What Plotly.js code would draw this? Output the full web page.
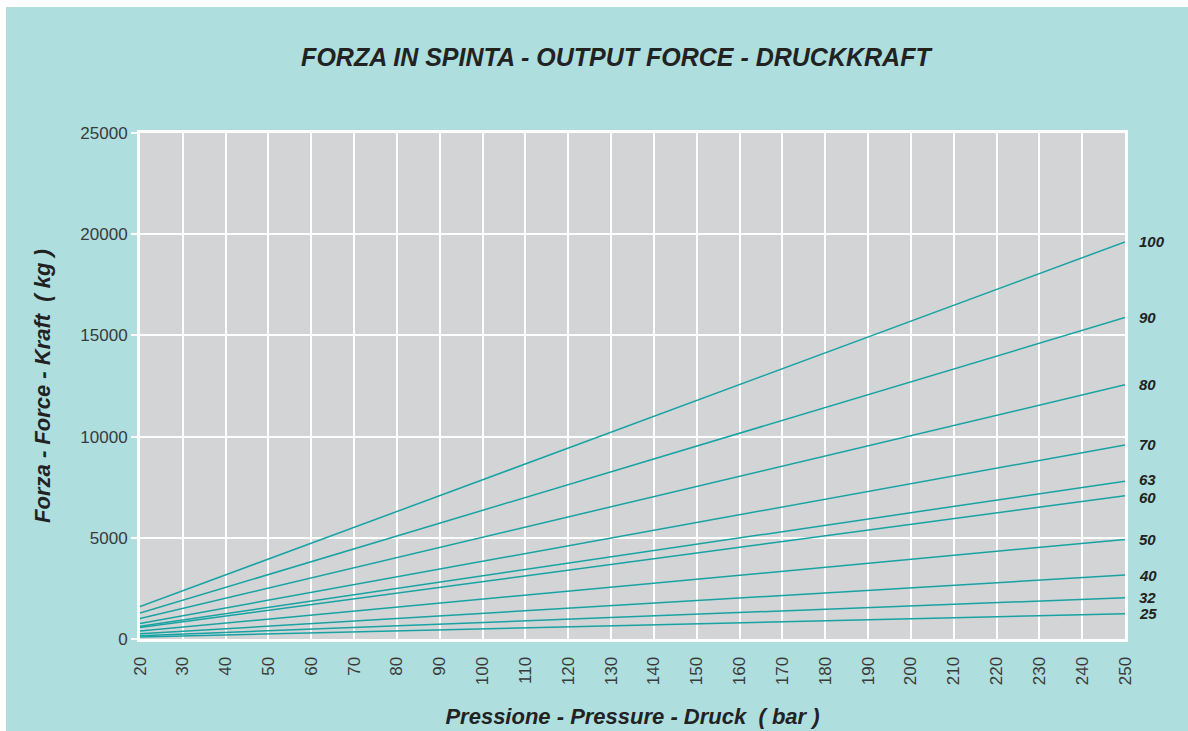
<!DOCTYPE html>
<html>
<head>
<meta charset="utf-8">
<script src="https://cdn.plot.ly/plotly-3.0.1.min.js"></script>
<style>
  html, body { margin: 0; padding: 0; background: #ffffff; }
  #chart { position: absolute; left: 6px; top: 7px; width: 1182px; height: 724px; }
</style>
</head>
<body>
<div id="chart"></div>
<script>
// Bore sizes (mm) labelled at the right of each line
const bores = ["100", "90", "80", "70", "63", "60", "50", "40", "32", "25"];
// Pressure end points (bar)
const pressures = [20, 250];
// Force (kg) at 20 bar and at 250 bar
const forceAt20  = [1600, 1280, 1010, 770, 625, 570, 395, 255, 165, 100];
const forceAt250 = [19620, 15880, 12560, 9590, 7800, 7080, 4920, 3160, 2040, 1250];
const xTicks = [20,30,40,50,60,70,80,90,100,110,120,130,140,150,160,170,180,190,200,210,220,230,240,250];
const yTicks = [0, 5000, 10000, 15000, 20000, 25000];

const lineColor = "#17a3a3";
const textColor = "#3a3a3a";
const fontFam = "Liberation Sans, Arial, Helvetica, sans-serif";

const traces = bores.map((b, i) => ({
  type: "scatter",
  mode: "lines",
  name: b,
  x: pressures,
  y: [forceAt20[i], forceAt250[i]],
  line: { color: lineColor, width: 1.5 },
  hoverinfo: "x+y+name"
}));

// nudge the two close labels (63 / 60) apart slightly so they don't touch
function labelShift(b) {
  if (b === "63") return 2;
  if (b === "60") return -2;
  return 0;
}

const annotations = bores.map((b, i) => ({
  xref: "x", yref: "y",
  x: pressures[1], y: forceAt250[i],
  text: "<b><i>" + b + "</i></b>",
  showarrow: false,
  xanchor: "left", yanchor: "middle",
  xshift: 12,
  yshift: labelShift(b),
  font: { family: fontFam, size: 15, color: "#222222" }
}));

const layout = {
  width: 1182, height: 724,
  paper_bgcolor: "#aedede",
  plot_bgcolor: "#d3d4d6",
  showlegend: false,
  margin: { l: 134, r: 63, t: 126, b: 92 },
  title: {
    text: "<b><i>FORZA IN SPINTA - OUTPUT FORCE - DRUCKKRAFT</i></b>",
    font: { family: fontFam, size: 25, color: "#222222" },
    xref: "container", x: 0.516, xanchor: "center",
    yref: "container", y: 0.931, yanchor: "middle"
  },
  xaxis: {
    range: [20, 250],
    tickvals: xTicks,
    ticktext: xTicks.map(String),
    tickangle: -90,
    tickfont: { family: fontFam, size: 17, color: textColor },
    showgrid: true, gridcolor: "#ffffff", gridwidth: 1.5,
    zeroline: false,
    showline: true, linecolor: "#ffffff", linewidth: 3, mirror: true,
    ticks: "outside", ticklen: 8, tickcolor: "rgba(0,0,0,0)",
    title: {
      text: "<b><i>Pressione - Pressure - Druck  ( bar )</i></b>",
      font: { family: fontFam, size: 22, color: "#222222" },
      standoff: 25
    },
    automargin: false,
    fixedrange: true
  },
  yaxis: {
    range: [0, 25000],
    tickvals: yTicks,
    ticktext: yTicks.map(String),
    tickfont: { family: fontFam, size: 17, color: textColor },
    showgrid: true, gridcolor: "#ffffff", gridwidth: 1.5,
    zeroline: false,
    showline: true, linecolor: "#ffffff", linewidth: 3, mirror: true,
    ticks: "outside", ticklen: 6, tickcolor: "#ffffff", tickwidth: 1.5,
    title: {
      text: "<b><i>Forza - Force - Kraft  ( kg )</i></b>",
      font: { family: fontFam, size: 22, color: "#222222" },
      standoff: 24
    },
    automargin: false,
    fixedrange: true
  },
  annotations: annotations
};

Plotly.newPlot("chart", traces, layout, { displayModeBar: false });
</script>
</body>
</html>
